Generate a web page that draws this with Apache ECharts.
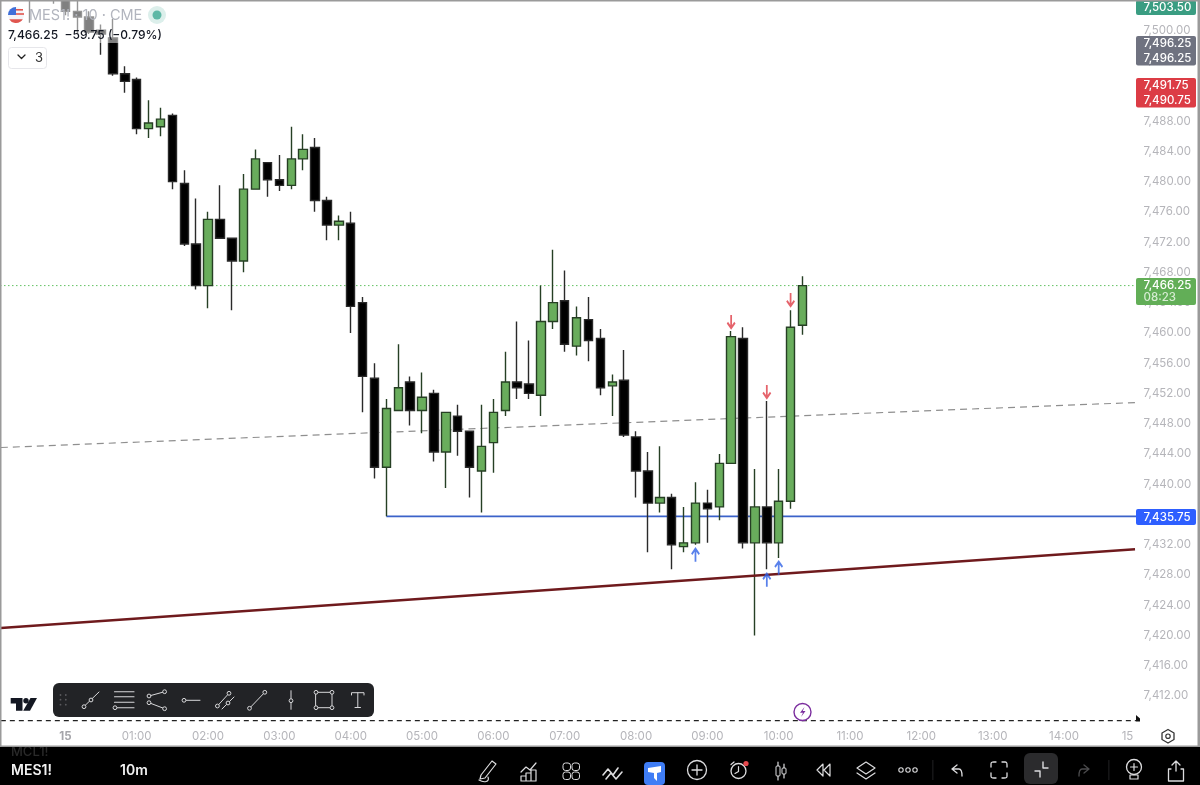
<!DOCTYPE html>
<html>
<head>
<meta charset="utf-8">
<style>html,body{margin:0;padding:0;background:#fff}#c{width:1200px;height:785px}</style>
<script src="https://cdn.jsdelivr.net/npm/echarts@6/dist/echarts.min.js"></script>
</head>
<body>
<div id="c"></div>
<script>
const categories = ["23:10","23:20","23:30","23:40","23:50",
"00:00","00:10","00:20","00:30","00:40","00:50","01:00","01:10","01:20","01:30","01:40","01:50",
"02:00","02:10","02:20","02:30","02:40","02:50","03:00","03:10","03:20","03:30","03:40","03:50",
"04:00","04:10","04:20","04:30","04:40","04:50","05:00","05:10","05:20","05:30","05:40","05:50",
"06:00","06:10","06:20","06:30","06:40","06:50","07:00","07:10","07:20","07:30","07:40","07:50",
"08:00","08:10","08:20","08:30","08:40","08:50","09:00","09:10","09:20","09:30","09:40","09:50",
"10:00","10:10","10:20","10:30","10:40","10:50","11:00","11:10","11:20","11:30","11:40","11:50",
"12:00","12:10","12:20","12:30","12:40","12:50","13:00","13:10","13:20","13:30","13:40","13:50",
"14:00","14:10","14:20","14:30","14:40","14:50","15:00"];
// bar times that carry a time-axis label, and the text shown for them
const tickLabels = {"00:00":"15","01:00":"01:00","02:00":"02:00","03:00":"03:00","04:00":"04:00","05:00":"05:00","06:00":"06:00","07:00":"07:00","08:00":"08:00","09:00":"09:00","10:00":"10:00","11:00":"11:00","12:00":"12:00","13:00":"13:00","14:00":"14:00","14:50":"15"};

const opens = [7512,7514,7509,7507,7510,7507,7502.5,7501.75,7500,7499,
7494.25,7493.5,7487,7487.25,7488.75,7479.75,7471.75,7466.25,7475,7472.5,
7469.5,7479,7482.5,7480.25,7479.5,7483,7484.5,7477.5,7474.25,7474.5,
7464,7454,7442.25,7449.75,7453.5,7449.75,7452,7444.25,7449,7447,
7441.75,7445.5,7449.75,7453.5,7453.25,7451.75,7461.5,7464.25,7458.25,7461.75,
7459.25,7453,7453.75,7446.25,7441.75,7437.5,7438.25,7431.75,7432.25,7437.5,
7437,7442.75,7459.25,7432.25,7437,7432.25,7437.75,7461];
const closes = [7510,7512,7507,7508,7506,7502.5,7501.75,7499.75,7499.5,7494.25,
7493.25,7487,7487.75,7488.25,7480,7471.75,7466.25,7475,7472.5,7469.5,
7479,7483,7480.25,7479.5,7483,7484.25,7477.5,7474.25,7474.75,7463.5,
7454.25,7442.25,7450,7452.75,7449.75,7451.5,7444.25,7449.5,7447,7442.25,
7445,7449.5,7453.5,7452.75,7452,7461.5,7464,7458.5,7462,7459,
7452.75,7453.5,7446.5,7441.75,7437.5,7438.25,7432,7432.25,7437.5,7436.75,
7442.75,7459.5,7432.25,7437,7432.25,7437.75,7460.75,7466.25];
const lows = [7508,7510,7501,7505,7503.5,7502,7499.5,7499.5,7496.75,7494,
7491.75,7486.25,7485.75,7486,7479,7471.5,7465.75,7463.25,7472.5,7463,
7468,7479,7478,7478.75,7479,7481.5,7476,7472.25,7472.25,7460,
7449.5,7440.75,7435.75,7449.75,7447.75,7446.75,7443,7439.5,7443.75,7438.25,
7436.25,7441.5,7449,7451.25,7451.25,7449,7460.5,7457.5,7457,7456.25,
7451.75,7449,7446.25,7438.25,7431,7436.25,7428.75,7431,7432,7432.25,
7435.25,7442.75,7431.5,7420,7428.75,7430.25,7436.75,7459.75];
const highs = [7514,7516,7511,7510,7511,7508,7505,7502.5,7500.75,7501.5,
7495.25,7493.75,7490.75,7489.75,7489,7481.5,7477.75,7476,7479.5,7472.5,
7481,7484.25,7482.5,7483.5,7487.25,7486.25,7485.75,7478,7475.5,7476,
7464.75,7456,7451.25,7458.5,7454.25,7454.75,7452.5,7449.5,7450.5,7447,
7450.5,7451.25,7457.5,7461.5,7459,7466.25,7471,7468.25,7463.5,7464.75,
7460.5,7454.5,7457.75,7447,7444.25,7445,7438.75,7437,7440.25,7439.25,
7444,7460.25,7460.75,7442,7451,7442,7463,7467.5];

const upArrows = [[58,7430.6],[64,7427.3],[65,7428.9]];
const downArrows = [[61,7461.5],[64,7452.25],[66,7464.4]];

const lastPriceLine = [[0,7466.25],[95.6,7466.25]];
const supportLine = [[32.5,7435.75],[95.6,7435.75]];
const trendLine = [[0.07,7421],[95.47,7431.4]];
const dashedTrend = [[0.07,7444.85],[95.55,7450.8]];
const sessionLine = [[0.07,7408.75],[95.55,7408.75]];

const candles = opens.map((o,i)=>[o,closes[i],lows[i],highs[i]]);

const Z = 100;
const FONT = 'Inter, "Noto Sans", sans-serif';
let shapeCount = 0;
function path(d, stroke, lw, fill, z){
  const name = 'chromePath' + (shapeCount++);
  echarts.graphic.registerShape(name, echarts.graphic.extendPath(d, {}));
  return {type:name, silent:true, z:z||Z,
    style:{stroke:stroke||null, lineWidth:lw||1, fill:fill||'none', lineCap:'round', lineJoin:'round'}};
}
function rect(x,y,w,h,fill,r,stroke,z){
  return {type:'rect', silent:true, z:z||Z, shape:{x,y,width:w,height:h,r:r||0},
    style:{fill:fill||'none', stroke:stroke||null, lineWidth:1}};
}
function circ(cx,cy,r,fill,stroke,lw,z){
  return {type:'circle', silent:true, z:z||Z, shape:{cx,cy,r},
    style:{fill:fill||'none', stroke:stroke||null, lineWidth:lw||1}};
}
function text(x,y,t,color,size,weight,align,z){
  return {type:'text', silent:true, z:z||Z+2, x, y,
    style:{text:t, fill:color, font:(weight||400)+' '+size+'px '+FONT, textAlign:align||'left', textVerticalAlign:'middle'}};
}

const g = [];
// frame
g.push(rect(0,0,1200,1.5,'#9a9a9a',0,null,Z+5));
g.push(rect(0,0,1.5,747,'#9a9a9a',0,null,Z+5));
g.push(rect(1197.5,0,2.5,747,'#9a9a9a',0,null,Z+5));
g.push(rect(0,745.5,1200,1.5,'#9a9a9a',0,null,Z+5));
// legend wash over the candles
g.push(rect(0,0,166,43,'rgba(255,255,255,0.5)'));
// flag + title
g.push(circ(16,15,8,'#f4f4f6'));
g.push(path('M8 15 L16 15 L16 7 A8 8 0 0 0 8 15 Z',null,1,'#3f6fd8',Z+1));
g.push(path('M9.2 19.2 A8 8 0 0 0 22.8 19.2 Z',null,1,'#e0564f',Z+1));
g.push(rect(16,9,7,1.6,'#e0564f',0,null,Z+1));
g.push(rect(16,13.2,8,1.6,'#e0564f',0,null,Z+1));
g.push(text(29,15.5,'MES1! · 10 · CME','#b2b5be',14.5,400));
g.push(circ(157,15,9,'#dcefeb'));
g.push(circ(157,15,4.5,'#5fb8a6',null,1,Z+1));
g.push(text(8,35.5,'7,466.25  \u221259.75 (\u22120.79%)','#131722',12,500));
g.push(rect(8.5,47.5,38,21,'#ffffff',3,'#e6e6ea'));
g.push(path('M18 55 L21.5 58.5 L25 55','#222',1.3));
g.push(text(39,58,'3','#333',13,400,'center'));

// price tags
const tags = [
 [0,15,'#3a9d82',[['7,503.50',7,'#fff']]],
 [36,29.5,'#6f7280',[['7,496.25',43,'#fff'],['7,496.25',58,'#fff']]],
 [78,29.5,'#dc3c45',[['7,491.75',85,'#fff'],['7,490.75',100,'#fff']]],
 [278,27,'#62ae57',[['7,466.25',285,'#fff'],['08:23',297,'#d6ecd2']]],
 [509,16,'#2e5fff',[['7,435.75',517,'#fff']]]
];
tags.forEach(t=>{
  g.push(rect(1136,t[0],60,t[1],t[2],2));
  t[3].forEach(l=>g.push(text(1143.5,l[1]+0.5,l[0],l[2],11.5,500)));
});
// session end marker
g.push(path('M1136 715 L1140 718.5 L1140 721.5 L1136 721.5 Z',null,1,'#111'));
// lightning badge
g.push(circ(802.5,712,8.5,'#ffffff','#7b2d9e',1.4));
g.push(path('M804.5 707 L800 712.8 L803 712.8 L801 717 L805.5 711 L802.7 711 Z',null,1,'#7b2d9e',Z+1));
// settings hexagon
g.push(path('M1168 729.5 L1174 733 L1174 739.5 L1168 743 L1162 739.5 L1162 733 Z','#333',1.3));
g.push(circ(1168,736.2,2.2,null,'#333',1.2));
// TradingView logo
g.push(path('M10.7 698 L22.5 698 L22.5 710.7 L16 710.7 L16 703.5 L10.7 703.5 Z',null,1,'#131722'));
g.push(circ(26,700.7,2.7,'#131722'));
g.push(path('M30.5 698 L37 698 L30 710.7 L23.2 710.7 Z',null,1,'#131722'));
// drawing toolbar
g.push(rect(53,683,321,34,'#222326',6));
[60.5,65.8].forEach(x=>[695,699.7,704.7].forEach(y=>g.push(circ(x,y,0.9,'#5b5b5f',null,1,Z+1))));
const ink='#d8d8da';
const dot=(x,y)=>g.push(circ(x,y,1.9,'#222326',ink,1,Z+2));
g.push(path('M84 706.5 L99 692',ink,1,null,Z+1)); dot(84,706.7); dot(91,700);
[691.7,696.7,702.3,707.7].forEach(y=>g.push(path('M114.5 '+y+' L134 '+y,ink,1.1,null,Z+1))); dot(115,707.7);
g.push(path('M149 696 L164.6 691.7 M149 702.7 L164.6 708.7',ink,1,null,Z+1)); dot(149,696); dot(164.6,691.7); dot(149,702.7); dot(164.6,708.7);
g.push(path('M184 700.3 L200 700.3',ink,1,null,Z+1)); dot(184,700.3);
g.push(path('M217.4 706 L229 693.3 M222 709 L234 697',ink,1,null,Z+1)); dot(217.4,706); dot(229,693.3); dot(228,703);
g.push(path('M249.5 708.3 L264.8 692.3',ink,1,null,Z+1)); dot(249.5,708.3); dot(264.8,692.3);
g.push(path('M291 690.7 L291 709.3',ink,1,null,Z+1)); dot(291,700.7);
g.push(path('M316 692.3 L332 692.3 L332 707.7 L316 707.7 Z',ink,1,null,Z+1)); dot(316,692.3); dot(332,692.3); dot(316,707.7); dot(332,707.7);
g.push(path('M351.5 695 L351.5 692.7 L364 692.7 L364 695 M357.8 692.7 L357.8 707 M355 707.5 L360.5 707.5',ink,1,null,Z+1));
// bottom bar
g.push(rect(0,747,1200,38,'#000000',0,null,Z+3));
const B=Z+4, W='#dcdcde';
g.push(text(11,770.5,'MES1!','#f2f2f2',14,600,'left',B));
g.push(text(120,770.5,'10m','#f2f2f2',14,600,'left',B));
g.push(text(11,752,'MCL1!','#2a2a2a',13,500,'left',B));
g.push(path('M479 780 C484 783 490 782 488 777 M481 775 L492 761 L496 764 L485 778 L480 779 Z',W,1.2,null,B));
g.push(path('M521 772 L526 767 L530 770 L536 763 M521 781 L521 776 L526 776 L526 781 M526 781 L526 773 L531 773 L531 781 M531 781 L531 770 L536 770 L536 781 L521 781',W,1.2,null,B));
[[563,763],[572,763],[563,772],[572,772]].forEach(p=>g.push(rect(p[0],p[1],7.5,7.5,null,2.5,W,B)));
g.push(path('M603 775 L608 769 L613 775 L618 768 M606 779 L611 773 L616 779 L622 772',W,1.6,null,B));
g.push(rect(644,762,21,23,'#3f7df5',4,null,B));
g.push(path('M648 768 L661 766 L661 772 L657 773 L657 781 L654 778 L654 773 L648 772 Z',null,1,'#ffffff',B));
g.push(circ(697,770,9.5,null,W,1.3,B));
g.push(path('M697 765 L697 775 M692 770 L702 770',W,1.3,null,B));
g.push(circ(738.5,771,7.5,null,W,1.3,B));
g.push(path('M738.5 766.5 L738.5 771.5 L735 773.5 M731 764.5 L734 762',W,1.2,null,B));
g.push(circ(746,763.5,2.6,'#e5484d',null,1,B));
g.push(path('M778 762 L778 780 M784 764 L784 778',W,1.2,null,B));
g.push(rect(776,766,4,10,'#000',1,W,B)); g.push(rect(782,768,4,6,'#000',1,W,B));
g.push(path('M823 764 L817 770 L823 776 Z M830 764 L824 770 L830 776 Z',W,1.2,null,B));
g.push(path('M866 762 L875 768 L866 774 L857 768 Z M857 773 L866 779 L875 773',W,1.2,null,B));
[901,908,915].forEach(x=>g.push(circ(x,770,2.2,null,W,1.1,B)));
g.push(rect(932.5,760,0.8,20,'#2a2a2c',0,null,B));
g.push(path('M952 769 L957 765 M952 769 L957 773 M952 769 L959 769 C962 769 962 773 962 776',W,1.3,null,B));
g.push(path('M991 767 L991 764 C991 762 992 762 994 762 L996 762 M1002 762 L1005 762 C1007 762 1007 763 1007 765 L1007 767 M1007 773 L1007 776 C1007 778 1006 778 1004 778 L1002 778 M996 778 L994 778 C992 778 991 778 991 776 L991 773',W,1.3,null,B));
g.push(rect(1024,753,34,31,'#2b2b2d',6,null,B));
g.push(path('M1035 771 L1040 771 L1040 777 M1043 762 L1043 768 L1048 768',W,1.4,null,B+1));
g.push(path('M1089 769 L1084 765 M1089 769 L1084 773 M1089 769 L1082 769 C1079 769 1079 773 1079 776','#4b4b4d',1.3,null,B));
g.push(rect(1108.5,760,0.8,20,'#2a2a2c',0,null,B));
g.push(circ(1134,767,7.5,null,W,1.3,B));
g.push(path('M1134 763.5 L1134 770.5 M1130.5 767 L1137.5 767 M1130 775 L1138 775 L1138 779 L1130 779 Z',W,1.2,null,B));
g.push(path('M1176 771 L1176 761 M1172 765 L1176 761 L1180 765 M1171 769 L1168.5 769 L1168.5 781 L1183.5 781 L1183.5 769 L1181 769',W,1.3,null,B));

const axisGrey='#b5b5ba';
const lineSeries=(data,color,width,type,z,dash)=>({
  type:'line', xAxisIndex:1, yAxisIndex:0, data, symbol:'none', silent:true, z,
  lineStyle:{color,width,type:dash||type}, animation:false
});
const arrowUp='path://M5 13 L5 1 M0.5 6 L5 1 L9.5 6';
const arrowDown='path://M5 0 L5 12 M0.5 7 L5 12 L9.5 7';
const arrowSeries=(data,path,color)=>({
  type:'scatter', xAxisIndex:0, yAxisIndex:0, data, symbol:path, symbolSize:[10,13], symbolKeepAspect:true, silent:true, z:6,
  itemStyle:{color:'rgba(0,0,0,0)',borderColor:color,borderWidth:2}, animation:false
});

const chart = echarts.init(document.getElementById('c'), null, {renderer:'canvas'});
chart.setOption({
  animation:false,
  backgroundColor:'#ffffff',
  grid:{left:-0.8,top:-1.3,width:1142.1,height:727.6,containLabel:false},
  xAxis:[
    {type:'category',data:categories,boundaryGap:true,
     axisLine:{show:false},axisTick:{show:false},splitLine:{show:false},
     axisLabel:{color:axisGrey,fontFamily:FONT,fontSize:11.5,margin:4,hideOverlap:false,
       interval:(i,v)=>Object.prototype.hasOwnProperty.call(tickLabels,v),
       formatter:v=>{const t=tickLabels[v]||'';return v==='00:00'?'{b|'+t+'}':(v==='14:50'?'{e|'+t+'}':t);},
       rich:{b:{color:'#a5a5aa',fontWeight:700,fontSize:11.5,fontFamily:FONT},
             e:{color:axisGrey,fontSize:11.5,fontFamily:FONT,padding:[0,0,0,8]}}}},
    {type:'value',min:0,max:96,show:false,splitLine:{show:false}}
  ],
  yAxis:{type:'value',position:'right',min:7408,max:7504,interval:4,scale:true,
    axisLine:{show:false},axisTick:{show:false},splitLine:{show:false},
    axisLabel:{color:axisGrey,fontFamily:FONT,fontSize:11.5,margin:2.2,showMinLabel:false,showMaxLabel:false,
      formatter:v=>v.toLocaleString('en-US',{minimumFractionDigits:2,maximumFractionDigits:2})}},
  series:[
    lineSeries(dashedTrend,'#8f8f8f',1.2,'dashed',1,[7,5]),
    lineSeries(lastPriceLine,'#62c262',1,'dotted',1,[1.5,2.5]),
    lineSeries(supportLine,'#3b62c9',1.6,'solid',1),
    lineSeries(sessionLine,'#222222',1.2,'dashed',1,[5,4]),
    {type:'candlestick',xAxisIndex:0,yAxisIndex:0,data:candles,barWidth:9,z:2,silent:true,
     itemStyle:{color:'#69ad5c',color0:'#000000',borderColor:'#263f24',borderColor0:'#2a2a2a',borderWidth:1.4}},
    lineSeries(trendLine,'#6f1a1d',2.4,'solid',4),
    arrowSeries(upArrows,arrowUp,'#2f62e6'),
    arrowSeries(downArrows,arrowDown,'#df3c46')
  ],
  graphic:{elements:g}
});
</script>
</body>
</html>
